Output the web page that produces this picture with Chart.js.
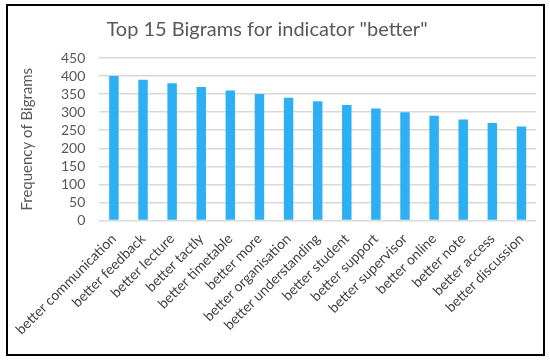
<!DOCTYPE html>
<html>
<head>
<meta charset="utf-8">
<script src="https://cdn.jsdelivr.net/npm/chart.js@4"></script>
<style>
html,body{margin:0;padding:0;background:#fff;}
#wrap{position:absolute;left:0;top:0;width:550px;height:362px;}
</style>
</head>
<body>
<div id="wrap"><canvas id="c" width="550" height="362"></canvas></div>
<script>
const categories = ["better communication","better feedback","better lecture","better tactly","better timetable","better more","better organisation","better understanding","better student","better support","better supervisor","better online","better note","better access","better discussion"];
const frequencies = [400,390,380,370,360,350,340,330,320,310,300,290,280,270,260];
const yTicks = [0,50,100,150,200,250,300,350,400,450];

const framePlugin = {
  id: 'frame',
  afterLayout(chart) {
    if (chart.titleBlock) { chart.titleBlock.left -= 10; chart.titleBlock.right -= 10; }
  },
  afterDraw(chart) {
    const ctx = chart.ctx;
    ctx.save();
    ctx.strokeStyle = '#000';
    ctx.lineWidth = 2;
    ctx.strokeRect(7, 5, 537, 350);
    ctx.restore();
  }
};

new Chart(document.getElementById('c'), {
  type: 'bar',
  data: {
    labels: categories,
    datasets: [{
      label: 'Frequency',
      data: frequencies,
      backgroundColor: '#2cb0f3',
      barPercentage: 0.65,
      categoryPercentage: 0.5
    }]
  },
  options: {
    responsive: false,
    animation: false,
    layout: { padding: { left: 18, right: 14, top: 14, bottom: 22 } },
    plugins: {
      legend: { display: false },
      tooltip: { enabled: false },
      title: {
        display: true,
        text: 'Top 15 Bigrams for indicator "better"',
        color: '#595959',
        font: { family: 'Lato', size: 20, weight: 'normal' },
        padding: { top: 4, bottom: 16 }
      }
    },
    scales: {
      x: {
        grid: { display: false },
        border: { display: false },
        ticks: {
          color: '#404040',
          font: { family: 'Lato', size: 14 },
          minRotation: 45,
          maxRotation: 45,
          autoSkip: false,
          padding: 2
        }
      },
      y: {
        min: 0,
        max: 450,
        afterBuildTicks(axis) { axis.ticks = yTicks.map(v => ({ value: v })); },
        grid: { color: '#d9d9d9', lineWidth: 1.5, drawTicks: false },
        border: { display: false },
        ticks: {
          color: '#595959',
          font: { family: 'Lato', size: 14 },
          padding: 14,
          autoSkip: false
        },
        title: {
          display: true,
          text: 'Frequency of Bigrams',
          color: '#595959',
          font: { family: 'Lato', size: 15 },
          padding: { top: 0, bottom: 11 }
        }
      }
    }
  },
  plugins: [framePlugin]
});
</script>
</body>
</html>
